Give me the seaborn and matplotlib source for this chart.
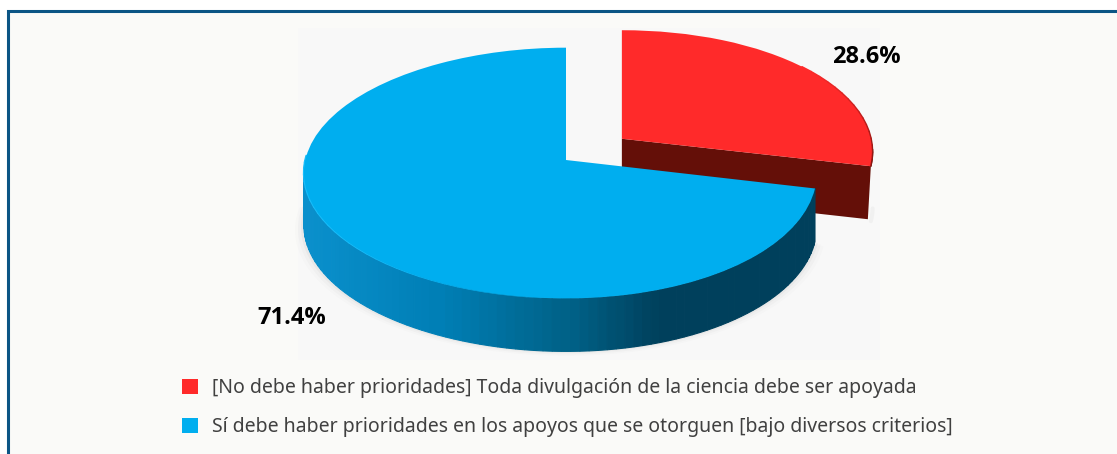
import numpy as np
import seaborn as sns
import matplotlib.pyplot as plt
from matplotlib.patches import Patch, Rectangle
from matplotlib.transforms import Transform

# data
labels = [
    "[No debe haber prioridades] Toda divulgación de la ciencia debe ser apoyada",
    "Sí debe haber prioridades en los apoyos que se otorguen [bajo diversos criterios]",
]
values = [28.6, 71.4]
colors = ["#FF2A2A", "#00AEEF"]

# look of the tilted disc, in pixels
CX, CY, A, B, K, M = 566, 160, 255, 124, 0.104, 0.022
DEPTH = 53


class Tilt(Transform):
    input_dims = 2
    output_dims = 2

    def __init__(self, center=(0, 0), drop=0):
        super().__init__()
        self.center = center
        self.drop = drop

    def transform_non_affine(self, values):
        pts = np.asarray(values, dtype=float)
        dx = pts[:, 0] - self.center[0]
        dy = pts[:, 1] - self.center[1]
        sx = self.center[0] + dx * (1 - M * dx) / (1 + K * dy)
        sy = pts[:, 1] / (1 + K * pts[:, 1])
        return np.column_stack([CX + A * sx, CY - B * sy + self.drop])


def rim(wedge, angles, drop=0):
    t = np.radians(angles)
    xy = np.column_stack([wedge.center[0] + wedge.r * np.cos(t), wedge.center[1] + wedge.r * np.sin(t)])
    return Tilt(wedge.center, drop).transform_non_affine(xy)


sns.set_theme(style="white")
plt.rcParams['font.family'] = ['Noto Sans', 'DejaVu Sans']

fig, ax = plt.subplots(figsize=(11.17, 4.54), dpi=100)
fig.subplots_adjust(0, 0, 1, 1)
fig.patch.set_facecolor('white')

wedges, _ = ax.pie(values, colors=colors, startangle=90, counterclock=False, explode=[0.28, 0], wedgeprops={'linewidth': 0})
ax.set_aspect('auto')
ax.set_xlim(0, 1117)
ax.set_ylim(454, 0)
ax.axis('off')

red, blue = wedges
red.set_transform(Tilt(red.center) + ax.transData)
blue.set_transform(Tilt(blue.center) + ax.transData)
red.set_zorder(5)
blue.set_zorder(7)

# panel
ax.add_patch(Rectangle((8, 11), 1130, 470, facecolor='#FAFAF8', edgecolor='#0B5585', linewidth=2.2, zorder=0, clip_on=False))
ax.add_patch(Rectangle((298, 28), 582, 332, facecolor='#F8F8F8', edgecolor='none', zorder=0.5))

# soft shadow under the disc, front arc only
ang_blue = np.linspace(-185, blue.theta2, 200)
for grow, alpha in zip([9, 6, 3], [0.012, 0.02, 0.03]):
    pts = rim(blue, ang_blue, DEPTH + grow * 0.5)
    pts[:, 0] = CX + (pts[:, 0] - CX) * (1 + grow / 260)
    ax.fill(pts[:, 0], pts[:, 1], color='black', alpha=alpha, lw=0, zorder=1)
ang_red = np.linspace(red.theta1, red.theta1 + 6, 12)
pts = rim(red, ang_red, DEPTH + 2)
ax.plot(pts[:, 0], pts[:, 1], color='black', alpha=0.03, lw=3, zorder=1)

# red cut face and rim wall
apex = Tilt(red.center).transform_non_affine(np.array([red.center]))[0]
edge = rim(red, [red.theta1])[0]
ax.fill([apex[0], edge[0], edge[0] - 3, apex[0]],
        [apex[1], edge[1], edge[1] + DEPTH, apex[1] + DEPTH],
        color='#640F08', lw=0, zorder=3)
ang = np.linspace(red.theta1, red.theta1 + 8, 12)
top = rim(red, ang)
ax.plot(top[:, 0], top[:, 1], color='#640F08', lw=1, zorder=4)
edge_tones = sns.blend_palette(['#8A1410', colors[0]], 16)
ang = np.linspace(red.theta1, 40, 17)
for i in range(16):
    top = rim(red, ang[i:i + 2])
    ax.plot(top[:, 0], top[:, 1], color=edge_tones[i], lw=1, zorder=6)

# blue wall, shaded by horizontal position
steps = 90
edges = np.linspace(-180, blue.theta2, steps + 1)
shade_hex = ["#0A90CC", "#007FB6", "#006288", "#00405C"]
ramp = sns.blend_palette(shade_hex[:2], 26) + sns.blend_palette(shade_hex[1:3], 25) + sns.blend_palette(shade_hex[2:4], 19) + [shade_hex[3]] * 31
x_left = rim(blue, [-180])[0, 0]
x_right = rim(blue, [blue.theta2])[0, 0]
for i in range(steps):
    ang = np.linspace(edges[i], edges[i + 1], 5)
    top, low = rim(blue, ang), rim(blue, ang, DEPTH)
    frac = (top[:, 0].mean() - x_left) / (x_right - x_left)
    c = ramp[int(np.clip(frac, 0, 1) * 100)]
    ax.fill(np.r_[top[:, 0], low[::-1, 0]], np.r_[top[:, 1], low[::-1, 1]],
            facecolor=c, edgecolor=c, lw=0.8, zorder=6)

# bright lip on the lower left, thinning out towards the front
lip_tones = sns.blend_palette(['#18BDFA', '#18BDFA', colors[1]], 30)
lip_widths = np.linspace(1.8, 0.2, 30)
ang = np.linspace(-182, -95, 31)
for i in range(30):
    top = rim(blue, ang[i:i + 2], 0.2)
    ax.plot(top[:, 0], top[:, 1], color=lip_tones[i], lw=lip_widths[i], zorder=6.5, solid_capstyle='round')

# labels
ax.text(866, 57, f"{values[0]}%", ha='center', va='center', fontsize=17, fontweight='bold', family=['Open Sans', 'DejaVu Sans'], color='black', zorder=8)
ax.text(292, 318, f"{values[1]}%", ha='center', va='center', fontsize=17, fontweight='bold', family=['Open Sans', 'DejaVu Sans'], color='black', zorder=8)

handles = [Patch(facecolor=c, edgecolor='none', label=l) for c, l in zip(colors, labels)]
ax.legend(handles=handles, loc='upper left', bbox_to_anchor=(182 / 1117, 1 - 378 / 454), frameon=False,
          fontsize=14, labelcolor='#404040', handlelength=0.82, handleheight=0.82, handletextpad=0.72,
          labelspacing=1.0, borderpad=0, borderaxespad=0)

plt.savefig("out.png", dpi=100)
